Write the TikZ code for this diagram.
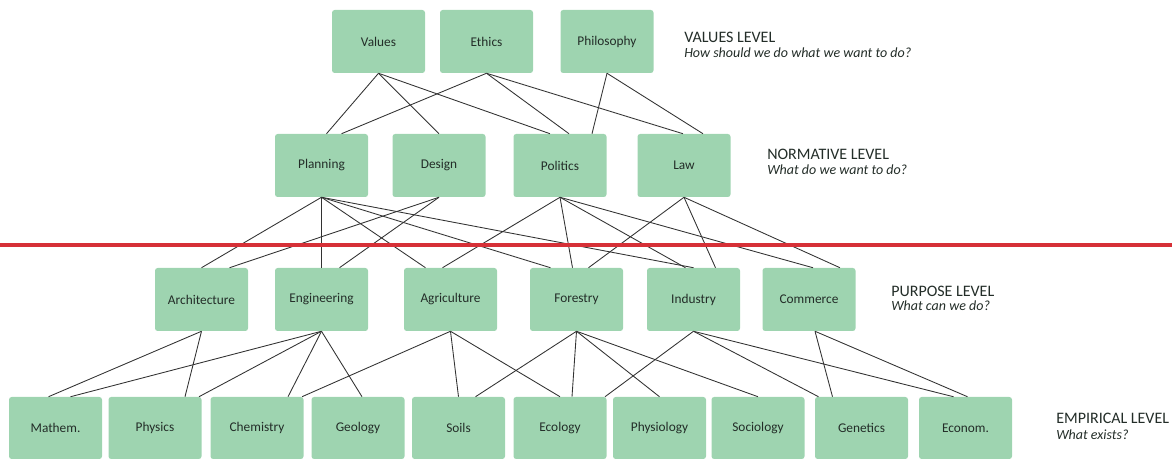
\documentclass[tikz,border=0pt]{standalone}
\usepackage{fontspec}
\setmainfont{Carlito}
\usetikzlibrary{calc}
\definecolor{boxgreen}{RGB}{158,212,176}
\definecolor{linegrey}{RGB}{50,50,50}
\definecolor{sepred}{RGB}{214,48,55}
\definecolor{textgrey}{RGB}{35,45,40}
\begin{document}
\begin{tikzpicture}[x=0.75pt,y=-0.75pt,
  box/.style={fill=boxgreen,rounded corners=2pt,minimum width=69.75pt,minimum height=47.25pt,inner sep=0pt,text=textgrey,font=\fontsize{10}{12}\selectfont},
  link/.style={draw=linegrey,line width=0.65pt},
  lvl/.style={anchor=base west,inner sep=0pt,text=textgrey,font=\fontsize{12}{14}\selectfont},
  lvlq/.style={anchor=base west,inner sep=0pt,text=textgrey,font=\fontsize{10.5}{12}\selectfont\itshape}]
\useasboundingbox (0,0) rectangle (1172,459);

% values level
\node[box] (values) at (378.5,41.5) {Values};
\node[box] (ethics) at (486.5,41.5) {Ethics};
\node[box] (philo) at (607,41.5) {Philosophy};

% normative level
\node[box] (planning) at (321.5,165.5) {Planning};
\node[box] (design) at (439,165.5) {Design};
\node[box] (politics) at (560,165.5) {Politics};
\node[box] (law) at (684,165.5) {Law};

% purpose level
\node[box] (archi) at (201.5,299.5) {Architecture};
\node[box] (engin) at (321.5,299.5) {Engineering};
\node[box] (agri) at (450.5,299.5) {Agriculture};
\node[box] (forest) at (576.5,299.5) {Forestry};
\node[box] (industry) at (693.5,299.5) {Industry};
\node[box] (commerce) at (809,299.5) {Commerce};

% empirical level
\node[box,minimum height=46.5pt] (math) at (55.5,428) {Mathem.};
\node[box,minimum height=46.5pt] (physics) at (155,428) {Physics};
\node[box,minimum height=46.5pt] (chem) at (257,428) {Chemistry};
\node[box,minimum height=46.5pt] (geo) at (358,428) {Geology};
\node[box,minimum height=46.5pt] (soils) at (458.5,428) {Soils};
\node[box,minimum height=46.5pt] (eco) at (560,428) {Ecology};
\node[box,minimum height=46.5pt] (physio) at (659.5,428) {Physiology};
\node[box,minimum height=46.5pt] (socio) at (758,428) {Sociology};
\node[box,minimum height=46.5pt] (genetics) at (861.5,428) {Genetics};
\node[box,minimum height=46.5pt] (econ) at (965.5,428) {Econom.};

% level labels
\node[lvl] (valuelvl) at (684,43) {VALUES LEVEL};
\node[lvlq] (valueq) at (684,58) {How should we do what we want to do?};
\node[lvl] (normlvl) at (767,160) {NORMATIVE LEVEL};
\node[lvlq] (normq) at (767,175) {What do we want to do?};
\node[lvl] (purplvl) at (891,297) {PURPOSE LEVEL};
\node[lvlq] (purpq) at (891,311) {What can we do?};
\node[lvl] (emplvl) at (1056,424) {EMPIRICAL LEVEL};
\node[lvlq] (empq) at (1056,440) {What exists?};

% values -> normative
\draw[link] (values.south) -- ($(planning.north)+(5,0)$);
\draw[link] (values.south) -- (design.north);
\draw[link] (values.south) -- ($(politics.north)+(-10,0)$);
\draw[link] (ethics.south) -- ($(planning.north)+(20,0)$);
\draw[link] (ethics.south) -- ($(politics.north)+(9,0)$);
\draw[link] (ethics.south) -- ($(law.north)+(-1,0)$);
\draw[link] (philo.south) -- ($(politics.north)+(32,0)$);
\draw[link] (philo.south) -- ($(law.north)+(19,0)$);

% normative -> purpose
\draw[link] (planning.south) -- (archi.north);
\draw[link] (planning.south) -- (engin.north);
\draw[link] (planning.south) -- ($(agri.north)+(-25,0)$);
\draw[link] (planning.south) -- ($(forest.north)+(-26,0)$);
\draw[link] (planning.south) -- (industry.north);
\draw[link] (design.south) -- ($(archi.north)+(28,0)$);
\draw[link] (design.south) -- ($(engin.north)+(18,0)$);
\draw[link] (politics.south) -- ($(agri.north)+(-8,0)$);
\draw[link] (politics.south) -- ($(forest.north)+(-4,0)$);
\draw[link] (politics.south) -- ($(industry.north)+(-8,0)$);
\draw[link] (politics.south) -- ($(commerce.north)+(4,0)$);
\draw[link] (law.south) -- ($(forest.north)+(12,0)$);
\draw[link] (law.south) -- ($(industry.north)+(22,0)$);
\draw[link] (law.south) -- ($(commerce.north)+(31,0)$);

% purpose -> empirical
\draw[link] (archi.south) -- ($(math.north)+(-7,0)$);
\draw[link] (archi.south) -- ($(physics.north)+(30,0)$);
\draw[link] (engin.south) -- ($(math.north)+(15,0)$);
\draw[link] (engin.south) -- ($(physics.north)+(44,0)$);
\draw[link] (engin.south) -- ($(chem.north)+(31,0)$);
\draw[link] (engin.south) -- ($(geo.north)+(4,0)$);
\draw[link] (agri.south) -- ($(chem.north)+(45,0)$);
\draw[link] (agri.south) -- (soils.north);
\draw[link] (agri.south) -- (eco.north);
\draw[link] (forest.south) -- ($(soils.north)+(17,0)$);
\draw[link] (forest.south) -- ($(eco.north)+(12,0)$);
\draw[link] (forest.south) -- (physio.north);
\draw[link] (forest.south) -- (socio.north);
\draw[link] (industry.south) -- ($(eco.north)+(45,0)$);
\draw[link] (industry.south) -- ($(genetics.north)+(-43,0)$);
\draw[link] (industry.south) -- ($(econ.north)+(-12,0)$);
\draw[link] ($(commerce.south)+(6,0)$) -- ($(genetics.north)+(-29,0)$);
\draw[link] ($(commerce.south)+(6,0)$) -- ($(econ.north)+(2,0)$);

% red separator
\draw[sepred,line width=3.4pt] (0,245) -- (1172,245);
\end{tikzpicture}
\end{document}
